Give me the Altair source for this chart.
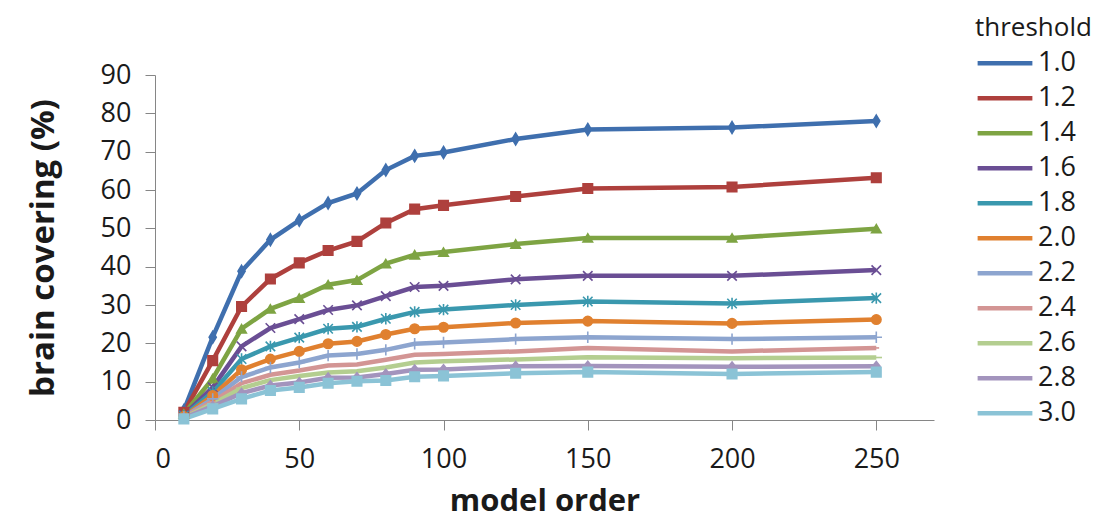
import altair as alt
import pandas as pd

orders = [10, 20, 30, 40, 50, 60, 70, 80, 90, 100, 125, 150, 200, 250]
thresholds = ["1.0", "1.2", "1.4", "1.6", "1.8", "2.0", "2.2", "2.4", "2.6", "2.8", "3.0"]
t10 = [2.5, 21.6, 38.8, 47.0, 52.1, 56.6, 59.1, 65.2, 68.9, 69.8, 73.3, 75.8, 76.3, 78.0]
t12 = [2.0, 15.5, 29.6, 36.8, 41.0, 44.2, 46.6, 51.4, 55.0, 56.0, 58.3, 60.4, 60.8, 63.2]
t14 = [1.6, 10.8, 23.8, 29.0, 31.8, 35.3, 36.5, 40.8, 43.1, 43.8, 45.9, 47.5, 47.5, 49.9]
t16 = [1.3, 8.5, 19.2, 24.0, 26.3, 28.7, 29.9, 32.3, 34.7, 35.0, 36.7, 37.6, 37.6, 39.1]
t18 = [1.1, 7.3, 15.9, 19.2, 21.5, 23.8, 24.3, 26.4, 28.2, 28.8, 30.0, 30.9, 30.4, 31.8]
t20 = [0.9, 6.4, 13.1, 15.9, 17.9, 19.9, 20.5, 22.3, 23.8, 24.2, 25.3, 25.8, 25.2, 26.2]
t22 = [0.8, 5.5, 11.2, 13.7, 15.0, 16.8, 17.2, 18.3, 19.9, 20.2, 21.1, 21.6, 21.1, 21.6]
t24 = [0.7, 4.8, 9.6, 11.8, 12.9, 14.2, 14.5, 15.7, 17.0, 17.2, 17.9, 18.8, 17.9, 18.8]
t26 = [0.6, 4.2, 8.3, 10.4, 11.5, 12.4, 12.7, 13.7, 15.0, 15.3, 15.8, 16.4, 16.1, 16.3]
t28 = [0.5, 3.6, 7.0, 9.0, 9.8, 11.0, 11.1, 12.0, 13.1, 13.2, 14.0, 14.1, 13.9, 14.0]
t30 = [0.3, 2.9, 5.5, 7.7, 8.5, 9.6, 10.1, 10.3, 11.3, 11.5, 12.2, 12.5, 12.0, 12.5]
series = [t10, t12, t14, t16, t18, t20, t22, t24, t26, t28, t30]

colors = ["#3F6FAE", "#AE403D", "#7EA443", "#6A4E94", "#3A98AE", "#E0802F",
          "#8DA5CF", "#D39594", "#B4CE90", "#A394BD", "#8BC3D6"]
shapes = ["M0,-1.25L0.75,0L0,1.25L-0.75,0Z", "square", "triangle-up",
          "M-1,-1L1,1M-1,1L1,-1",
          "M-1,-1L1,1M-1,1L1,-1M0,-1.2L0,1.2",
          "circle",
          "M0,-1.2L0,1.2M-1.2,0L1.2,0",
          "M-0.6,0L0.6,0",
          "M-1.2,0L1.2,0",
          "M0,-1L0.8,0L0,1L-0.8,0Z", "square"]

rows = []
for th, vals in zip(thresholds, series):
    for o, v in zip(orders, vals):
        rows.append({"order": o, "cover": v, "threshold": th})
df = pd.DataFrame(rows)

FONT = "Open Sans"
TXT = "#1a1a1a"
AX = "#868686"
xenc = alt.X("order:Q", scale=alt.Scale(domain=[0, 270], nice=False),
             axis=alt.Axis(values=[0, 50, 100, 150, 200, 250], title="model order",
                           grid=False, tickSize=10, labelPadding=16, labelOverlap=False,
                           labelFontSize=27, titleFontSize=31, titleFontWeight="bold",
                           titlePadding=14, domainColor=AX, tickColor=AX,
                           labelColor=TXT, titleColor=TXT, labelFont=FONT, titleFont=FONT))
yenc = alt.Y("cover:Q", scale=alt.Scale(domain=[0, 90], nice=False),
             axis=alt.Axis(values=list(range(0, 91, 10)), title="brain covering (%)",
                           grid=False, tickSize=10, labelPadding=14, labelOverlap=False,
                           labelFontSize=27, titleFontSize=33, titleFontWeight="bold",
                           titlePadding=40, domainColor=AX, tickColor=AX,
                           labelColor=TXT, titleColor=TXT, labelFont=FONT, titleFont=FONT))

base = alt.Chart(df).encode(x=xenc, y=yenc)

lines = base.mark_line(strokeWidth=4.5).encode(
    color=alt.Color("threshold:N", scale=alt.Scale(domain=thresholds, range=colors),
                    legend=alt.Legend(title="threshold", orient="none", legendX=820, legendY=-60,
                                      symbolType="stroke", symbolStrokeWidth=4.5, symbolSize=3000,
                                      labelFontSize=27, titleFontSize=26, titleFontWeight="normal",
                                      labelFont=FONT, titleFont=FONT, labelColor=TXT,
                                      titleColor=TXT, labelOffset=3, rowPadding=0,
                                      clipHeight=34.5, titlePadding=5, labelOverlap=False)),
)

layers = [lines]
for th, col, shp in zip(thresholds, colors, shapes):
    layers.append(
        base.transform_filter(alt.datum.threshold == th).mark_point(
            filled=True, size=90, shape=shp, fill=col, stroke=col, strokeWidth=1.6, opacity=1)
    )

chart = alt.layer(*layers).properties(
    width=779, height=345,
    autosize=alt.AutoSizeParams(type="none"),
    padding={"left": 147, "top": 67, "right": 159, "bottom": 100},
).configure_view(stroke=None)

chart.save("out.html", embed_options={"renderer": "svg", "actions": False})
